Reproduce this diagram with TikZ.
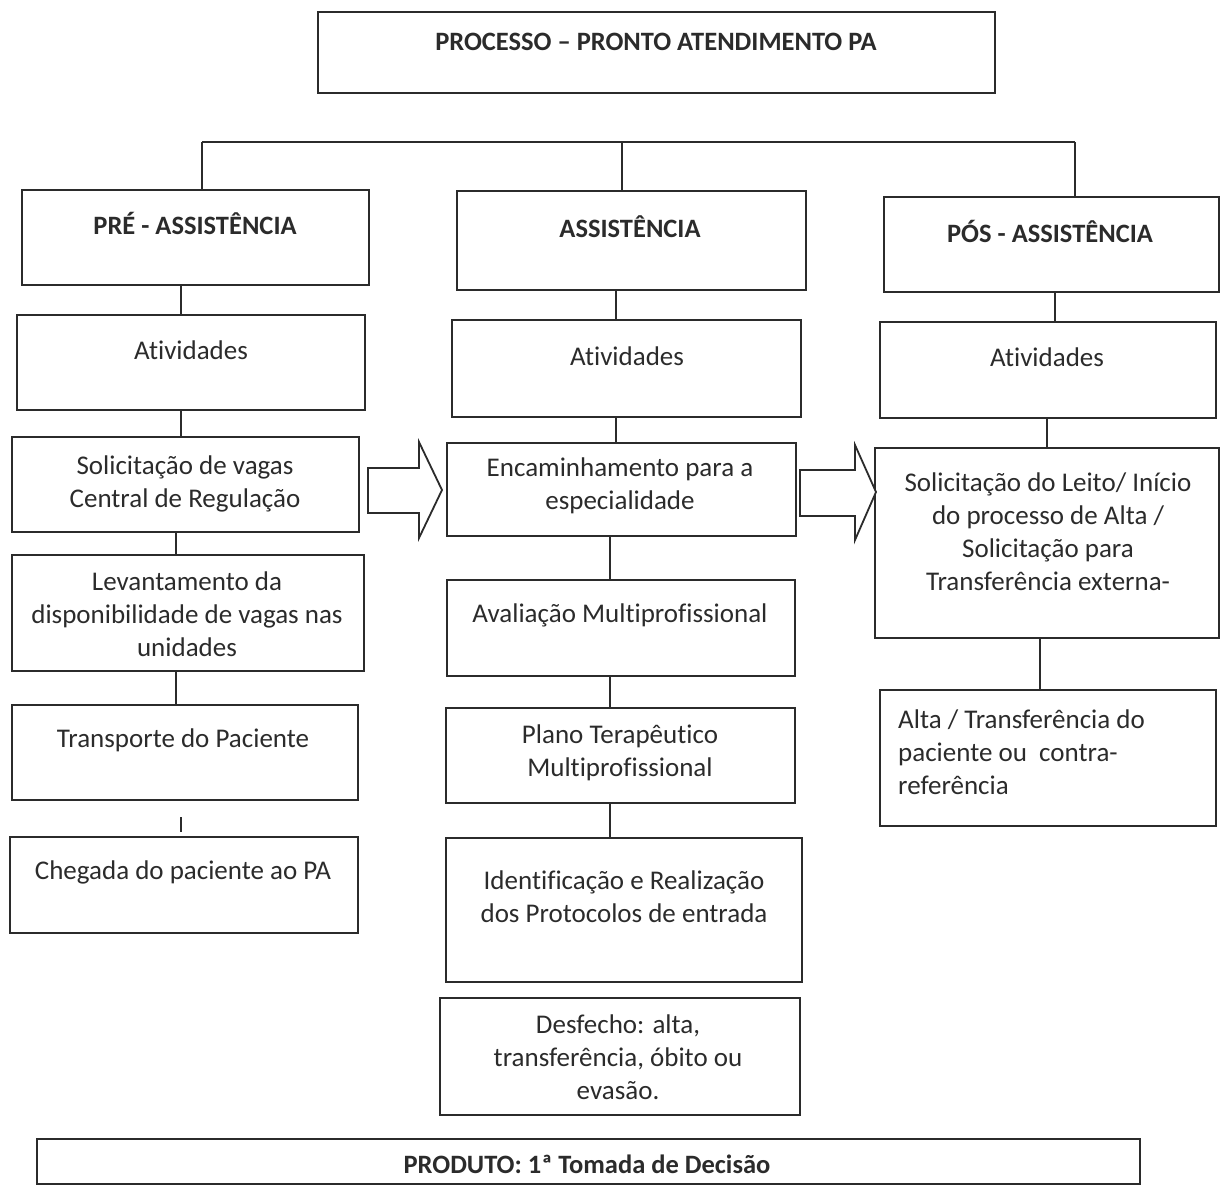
\documentclass[tikz,border=0pt]{standalone}
\usepackage{fontspec}
\setmainfont{Carlito}[Ligatures=NoCommon]
\usetikzlibrary{fit}
\definecolor{ink}{HTML}{2B2B2B}
\begin{document}
\begin{tikzpicture}[x=1pt,y=-1pt,
  box/.style={draw=ink, line width=1.8pt, inner sep=0pt},
  link/.style={draw=ink, line width=1.8pt},
  txt/.style={font=\fontsize{27}{33}\selectfont, align=center, text=ink, inner sep=0pt},
  hdr/.style={font=\fontsize{26.5}{30}\selectfont\bfseries, align=center, text=ink, inner sep=0pt},
  blockarrow/.style={draw=ink, line width=1.8pt, fill=white, line join=miter}]
\useasboundingbox (0,0) rectangle (1220,1187);

% title
\node[box, fit={(318,12) (995,93)}] (title) {};
\node[hdr] (titletxt) at (656,42) {PROCESSO – PRONTO ATENDIMENTO PA};

% branch line
\coordinate (bl) at (202,142);
\coordinate (bm) at (622,142);
\coordinate (br) at (1075,142);

% column headers
\node[box, fit={(22,190) (369,285)}] (pre) {};
\node[hdr] (pretxt) at (195,223) {PRÉ - ASSISTÊNCIA};
\node[box, fit={(457,191) (806,290)}] (ass) {};
\node[hdr] (asstxt) at (630,227) {ASSISTÊNCIA};
\node[box, fit={(884,197) (1219,292)}] (pos) {};
\node[hdr] (postxt) at (1050,231) {PÓS - ASSISTÊNCIA};

\draw[link] (bl) -- (br);
\draw[link] (bl) -- (bl |- pre.north);
\draw[link] (bm) -- (bm |- ass.north);
\draw[link] (br) -- (br |- pos.north);

% left column
\node[box, fit={(17,315) (365,410)}] (l1) {};
\node[txt] (l1t) at (191,350) {Atividades};
\node[box, fit={(12,437) (359,532)}] (l2) {};
\node[txt] (l2t) at (185,484) {Solicitação de vagas\\Central de Regulação};
\node[box, fit={(12,555) (364,671)}] (l3) {};
\node[txt] (l3t) at (187,614) {Levantamento da\\disponibilidade de vagas nas\\unidades};
\node[box, fit={(12,705) (358,800)}] (l4) {};
\node[txt] (l4t) at (183,740) {Transporte do Paciente};
\node[box, fit={(10,837) (358,933)}] (l5) {};
\node[txt] (l5t) at (183,872) {Chegada do paciente ao PA};

\coordinate (la) at (181,0);
\coordinate (lb) at (176,0);
\draw[link] (pre.south -| la) -- (l1.north -| la);
\draw[link] (l1.south -| la) -- (l2.north -| la);
\draw[link] (l2.south -| lb) -- (l3.north -| lb);
\draw[link] (l3.south -| lb) -- (l4.north -| lb);
\coordinate (tick1) at (181,817);
\coordinate (tick2) at (181,832);
\draw[link] (tick1) -- (tick2);

% middle column
\node[box, fit={(452,320) (801,417)}] (m1) {};
\node[txt] (m1t) at (627,356) {Atividades};
\node[box, fit={(447,443) (796,536)}] (m2) {};
\node[txt] (m2t) at (620,486) {Encaminhamento para a\\especialidade};
\node[box, fit={(447,580) (795,676)}] (m3) {};
\node[txt] (m3t) at (620,615) {Avaliação Multiprofissional};
\node[box, fit={(446,708) (795,803)}] (m4) {};
\node[txt] (m4t) at (620,753) {Plano Terapêutico\\Multiprofissional};
\node[box, fit={(446,838) (802,982)}] (m5) {};
\node[txt] (m5t) at (624,897) {Identificação e Realização\\dos Protocolos de entrada};
\node[box, fit={(440,998) (800,1115)}] (m6) {};
\node[txt] (m6t) at (618,1057) {Desfecho: alta,\\transferência, óbito ou\\evasão.};

\coordinate (ma) at (616,0);
\coordinate (mb) at (610,0);
\draw[link] (ass.south -| ma) -- (m1.north -| ma);
\draw[link] (m1.south -| ma) -- (m2.north -| ma);
\draw[link] (m2.south -| mb) -- (m3.north -| mb);
\draw[link] (m3.south -| mb) -- (m4.north -| mb);
\draw[link] (m4.south -| mb) -- (m5.north -| mb);

% right column
\node[box, fit={(880,322) (1216,418)}] (r1) {};
\node[txt] (r1t) at (1047,357) {Atividades};
\node[box, fit={(875,448) (1219,638)}] (r2) {};
\node[txt] (r2t) at (1048,532) {Solicitação do Leito/ Início\\do processo de Alta /\\Solicitação para\\Transferência externa-};
\node[box, fit={(880,690) (1216,826)}] (r3) {};
\node[txt, align=left, anchor=west] (r3t) at (898,752) {Alta / Transferência do\\paciente ou~ contra-\\referência};

\coordinate (ra) at (1055,0);
\coordinate (rb) at (1047,0);
\coordinate (rc) at (1040,0);
\draw[link] (pos.south -| ra) -- (r1.north -| ra);
\draw[link] (r1.south -| rb) -- (r2.north -| rb);
\draw[link] (r2.south -| rc) -- (r3.north -| rc);

% block arrows between columns
\draw[blockarrow] (368,468) -- (419,468) -- (419,442) -- (442,490) -- (419,538) -- (419,513) -- (368,513) -- cycle;
\draw[blockarrow] (800,470) -- (855,470) -- (855,445) -- (876,492) -- (855,540) -- (855,516) -- (800,516) -- cycle;

% product
\node[box, fit={(37,1139) (1140,1184)}] (prod) {};
\node[hdr] (prodt) at (587,1164) {PRODUTO: 1ª Tomada de Decisão};
\end{tikzpicture}
\end{document}
